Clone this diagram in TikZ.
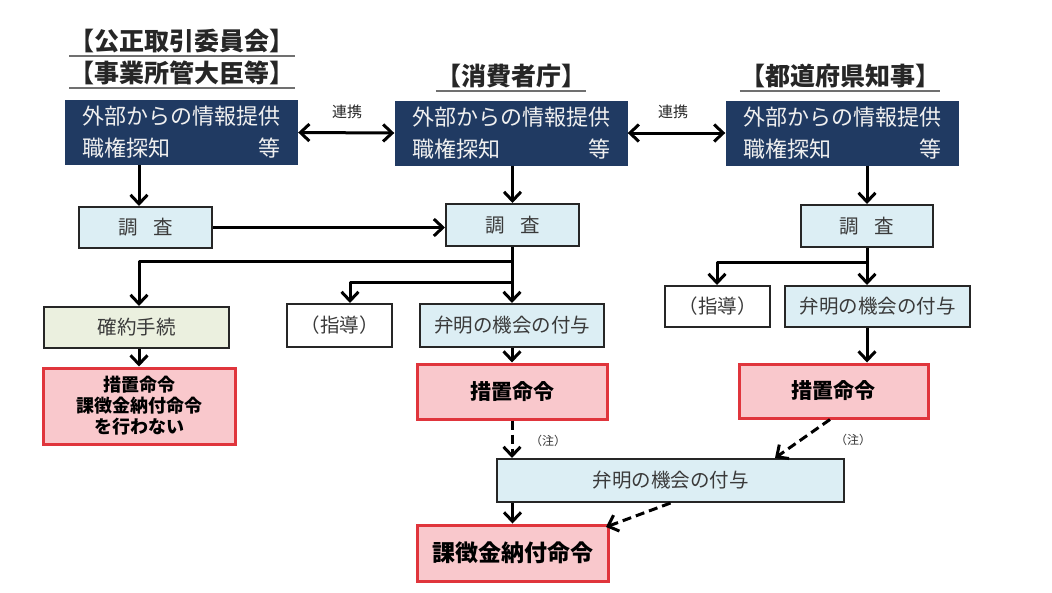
\documentclass[tikz,border=0pt]{standalone}
\usepackage{fontspec}
\newfontfamily\jp{Noto Sans CJK JP}
\usetikzlibrary{arrows.meta}
\definecolor{navy}{HTML}{203A62}
\definecolor{lblue}{HTML}{DCEEF4}
\definecolor{olive}{HTML}{EBF0DF}
\definecolor{pinkf}{HTML}{F9C8CC}
\definecolor{redb}{HTML}{E0353C}
\definecolor{txt}{HTML}{3A3A3A}
\definecolor{uline}{HTML}{707070}
\tikzset{
  hdr/.style={font=\jp\bfseries\fontsize{25}{28}\selectfont, inner sep=0pt, text=black!85},
  ul/.style={draw=uline, line width=1.8pt},
  dark/.style={fill=navy, draw=none, text=white!88!gray, minimum width=233pt, minimum height=65pt,
    text width=198pt, align=left, inner sep=0pt, font=\jp\fontsize{22}{32}\selectfont},
  lbox/.style={fill=lblue, draw=black!85, line width=2pt, text=txt, inner sep=0pt,
    font=\jp\fontsize{19.5}{22}\selectfont},
  obox/.style={lbox, fill=olive},
  wbox/.style={lbox, fill=white},
  rbox/.style={fill=pinkf, draw=redb, line width=3pt, text=black, inner sep=0pt, align=center,
    font=\jp\bfseries\fontsize{21}{24}\selectfont},
  lab/.style={font=\jp\fontsize{15}{18}\selectfont, text=black!85, inner sep=0pt},
  note/.style={font=\jp\fontsize{12}{14}\selectfont, text=black!80, inner sep=0pt},
  conn/.style={line width=3pt, line join=round},
  arr/.style={conn, -{Straight Barb[length=9pt,width=17pt]}},
  darr/.style={conn, {Straight Barb[length=9pt,width=17pt]}-{Straight Barb[length=9pt,width=17pt]}},
  dash arr/.style={arr, dash pattern=on 9pt off 5pt},
}
\begin{document}
\begin{tikzpicture}[x=1pt,y=-1pt]
\useasboundingbox[fill=white] (0,0) rectangle (1052,592);

% headers
\node[hdr] (h1) at (182,41) {【公正取引委員会】};
\node[hdr] (h2) at (182,73) {【事業所管大臣等】};
\node[hdr] (h3) at (511,76) {【消費者庁】};
\node[hdr] (h4) at (840,76) {【都道府県知事】};
\foreach \h in {h1,h2,h3,h4}{
  \draw[ul] ([yshift=-3pt]\h.south west) -- ([yshift=-3pt]\h.south east);
}

% dark boxes
\node[dark] (d1) at (181.5,132.5) {外部からの情報提供\\職権探知\hfill 等};
\node[dark] (d2) at (511,133) {外部からの情報提供\\職権探知\hfill 等};
\node[dark] (d3) at (842,133) {外部からの情報提供\\職権探知\hfill 等};
\node[lab] (l1) at (347,112) {連携};
\node[lab] (l2) at (673,112) {連携};
\draw[darr] (d1.east) -- (d2.west);
\draw[darr] (d2.east) -- (d3.west);

% investigation boxes
\node[lbox, minimum width=133pt, minimum height=41pt] (s1) at (145.5,227.5) {調\hspace{0.8em}査};
\node[lbox, minimum width=133pt, minimum height=42pt] (s2) at (512.5,225) {調\hspace{0.8em}査};
\node[lbox, minimum width=132pt, minimum height=42pt] (s3) at (867,226) {調\hspace{0.8em}査};
\coordinate (cx1) at (139,0);
\draw[arr] (d1.south -| cx1) -- (s1.north -| cx1);
\draw[arr] (d2.south -| s2.north) -- (s2.north);
\draw[arr] (d3.south -| s3.north) -- (s3.north);
\draw[arr] (s1.east) -- (s1.east -| s2.west);

% left / middle row
\node[obox, minimum width=185pt, minimum height=41pt] (k1) at (136.5,327.5) {確約手続};
\node[rbox, minimum width=192pt, minimum height=76pt, font=\jp\bfseries\fontsize{18}{21}\selectfont] (r1) at (139,406) {措置命令\\課徴金納付命令\\を行わない};
\node[wbox, minimum width=105pt, minimum height=43pt] (g1) at (339.5,325.5) {（指導）};
\node[lbox, minimum width=184pt, minimum height=43pt] (b1) at (512,325.5) {弁明の機会の付与};
\node[rbox, minimum width=190pt, minimum height=55pt] (r2) at (512,391.5) {措置命令};

\coordinate (j1) at (512,261);
\coordinate (j2) at (512,282);
\coordinate (cx2) at (350,0);
\draw[arr] (s2.south -| b1.north) -- (b1.north);
\draw[arr] (j1) -- (j1 -| cx1) -- (k1.north -| cx1);
\draw[arr] (j2) -- (j2 -| cx2) -- (g1.north -| cx2);
\draw[arr] (k1.south -| cx1) -- (r1.north -| cx1);
\draw[arr] (b1.south) -- (r2.north);

% right column
\node[wbox, minimum width=105pt, minimum height=41pt] (g2) at (717.5,306.5) {（指導）};
\node[lbox, minimum width=185pt, minimum height=41pt] (b2) at (877.5,306.5) {弁明の機会の付与};
\node[rbox, minimum width=189pt, minimum height=54pt] (r3) at (833.5,391) {措置命令};
\coordinate (j3) at (867,262);
\coordinate (cx3) at (717,0);
\draw[arr] (s3.south) -- (b2.north -| s3.south);
\draw[arr] (j3) -- (j3 -| cx3) -- (g2.north -| cx3);
\draw[arr] (b2.south -| s3.south) -- (r3.north -| s3.south);

% bottom
\node[lbox, minimum width=347pt, minimum height=43pt] (b3) at (670.5,480.5) {弁明の機会の付与};
\node[rbox, minimum width=191pt, minimum height=56pt, font=\jp\bfseries\fontsize{23}{26}\selectfont] (r4) at (512.5,553) {課徴金納付命令};
\coordinate (p1) at (830,0);
\coordinate (p2) at (775,0);
\coordinate (p3) at (606,527);
\draw[dash arr] (r2.south) -- (b3.north -| r2.south);
\draw[arr] (b3.south -| r4.north) -- (r4.north);
\draw[dash arr] (r3.south -| p1) -- (b3.north -| p2);
\draw[dash arr] (b3.south) -- (p3);
\node[note] (n1) at (548,441) {（注）};
\node[note] (n2) at (853,440) {（注）};
\end{tikzpicture}
\end{document}
